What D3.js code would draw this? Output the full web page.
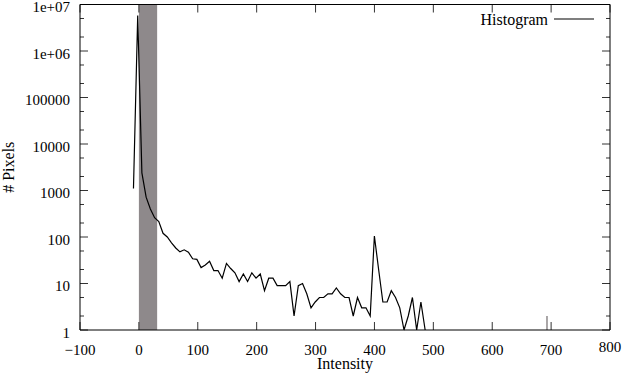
<!DOCTYPE html>
<html>
<head>
<meta charset="utf-8">
<script src="https://cdnjs.cloudflare.com/ajax/libs/d3/7.8.5/d3.min.js"></script>
<style>
    body { margin: 0; background: #fff; }
    svg { display: block; font-family: "Liberation Serif", "DejaVu Serif", serif; }
</style>
</head>
<body>
<svg id="chart" width="623" height="373"></svg>
<script>
// histogram bins (intensity) and pixel counts
const intensity = [-9.2, -2.0, 5.1, 12.3, 19.5, 26.7, 33.8, 41.0, 48.2, 55.4,
    62.6, 69.7, 76.9, 84.1, 91.3, 98.5, 105.6, 112.8, 120.0, 127.2,
    134.3, 141.5, 148.7, 155.9, 163.1, 170.2, 177.4, 184.6, 191.8, 198.9,
    206.1, 213.3, 220.5, 227.7, 234.8, 242.0, 249.2, 256.4, 263.5, 270.7,
    277.9, 285.1, 292.3, 299.4, 306.6, 313.8, 321.0, 328.1, 335.3, 342.5,
    349.7, 356.9, 364.0, 371.2, 378.4, 385.6, 392.8, 399.9, 407.1, 414.3,
    421.5, 428.6, 435.8, 443.0, 450.2, 457.4, 464.5, 471.7, 478.9, 486.1];
const pixelCount = [1100, 5800000, 2400, 720, 400, 260, 215, 120, 100, 75,
    58, 48, 53, 47, 34, 33, 22, 25, 30, 19,
    19, 13, 27, 21, 17, 11, 16, 11, 17, 13,
    16, 7, 13, 13, 9, 9, 9, 11, 2, 9,
    10, 6, 3, 4, 5, 5, 6, 6, 8, 6,
    5, 5, 2, 5, 3, 3, 2, 105, 20, 4,
    4, 7, 5, 3, 1, 2, 5, 1, 4, 1];

// shaded intensity window and the lone marker near 700
const bandRange = [0, 31];
const markerX = [693];
const markerCount = [2];

const xTicks = [-100, 0, 100, 200, 300, 400, 500, 600, 700, 800];
const xTickLabels = ["\u2212100", "0", "100", "200", "300", "400", "500", "600", "700", "800"];
const yTicks = [1, 10, 100, 1000, 10000, 100000, 1e6, 1e7];
const yTickLabels = ["1", "10", "100", "1000", "10000", "100000", "1e+06", "1e+07"];
const yMinor = [2, 5];

const svg = d3.select("#chart");
const plotLeft = 80, plotRight = 610, plotTop = 4.5, plotBottom = 330;

const x = d3.scaleLinear().domain([-100, 800]).range([plotLeft, plotRight]);
const y = d3.scaleLog().domain([1, 1e7]).range([plotBottom, plotTop]);

// band
svg.append("rect")
    .attr("x", x(bandRange[0]))
    .attr("y", plotTop)
    .attr("width", x(bandRange[1]) - x(bandRange[0]))
    .attr("height", plotBottom - plotTop)
    .attr("fill", "#8e898b");

svg.selectAll(".marker")
    .data(markerX)
    .enter()
    .append("line")
    .attr("x1", d => x(d)).attr("x2", d => x(d))
    .attr("y1", y(1)).attr("y2", (d, i) => y(markerCount[i]))
    .attr("stroke", "#8e898b")
    .attr("stroke-width", 1.5);

// ticks (mirrored)
const tickColor = "#333";
xTicks.forEach(function (t) {
    svg.append("line").attr("x1", x(t)).attr("x2", x(t))
        .attr("y1", plotBottom).attr("y2", plotBottom - 8)
        .attr("stroke", tickColor).attr("stroke-width", 1);
    svg.append("line").attr("x1", x(t)).attr("x2", x(t))
        .attr("y1", plotTop).attr("y2", plotTop + 8)
        .attr("stroke", tickColor).attr("stroke-width", 1);
});

yTicks.forEach(function (t) {
    svg.append("line").attr("x1", plotLeft).attr("x2", plotLeft + 8)
        .attr("y1", y(t)).attr("y2", y(t))
        .attr("stroke", tickColor).attr("stroke-width", 1);
    svg.append("line").attr("x1", plotRight).attr("x2", plotRight - 8)
        .attr("y1", y(t)).attr("y2", y(t))
        .attr("stroke", tickColor).attr("stroke-width", 1);
    if (t < 1e7) {
        yMinor.forEach(function (m) {
            svg.append("line").attr("x1", plotLeft).attr("x2", plotLeft + 4)
                .attr("y1", y(t * m)).attr("y2", y(t * m))
                .attr("stroke", tickColor).attr("stroke-width", 1);
            svg.append("line").attr("x1", plotRight).attr("x2", plotRight - 4)
                .attr("y1", y(t * m)).attr("y2", y(t * m))
                .attr("stroke", tickColor).attr("stroke-width", 1);
        });
    }
});

// histogram line
const line = d3.line()
    .x(d => x(d[0]))
    .y(d => y(d[1]));

svg.append("path")
    .datum(d3.zip(intensity, pixelCount))
    .attr("fill", "none")
    .attr("stroke", "#000")
    .attr("stroke-width", 1.2)
    .attr("stroke-linejoin", "miter")
    .attr("d", line);

// border
svg.append("line").attr("x1", plotLeft).attr("x2", plotRight).attr("y1", plotTop).attr("y2", plotTop)
    .attr("stroke", "#000");
svg.append("line").attr("x1", plotLeft).attr("x2", plotRight).attr("y1", plotBottom).attr("y2", plotBottom)
    .attr("stroke", "#000");
svg.append("line").attr("x1", plotLeft).attr("x2", plotLeft).attr("y1", plotTop).attr("y2", plotBottom)
    .attr("stroke", "#000");
svg.append("line").attr("x1", plotRight).attr("x2", plotRight).attr("y1", plotTop).attr("y2", plotBottom)
    .attr("stroke", "#000");

// tick labels
svg.selectAll(".xl")
    .data(xTicks)
    .enter()
    .append("text")
    .attr("x", d => x(d))
    .attr("y", (d, i) => i == xTicks.length - 1 ? 352 : 355)
    .attr("text-anchor", "middle")
    .attr("font-size", 15)
    .attr("fill", "#000")
    .text((d, i) => xTickLabels[i]);

svg.selectAll(".yl")
    .data(yTicks)
    .enter()
    .append("text")
    .attr("x", 70)
    .attr("y", d => y(d) + 7.5)
    .attr("text-anchor", "end")
    .attr("font-size", 15)
    .attr("fill", "#000")
    .text((d, i) => yTickLabels[i]);

// axis titles
svg.append("text")
    .attr("x", (plotLeft + plotRight) / 2)
    .attr("y", 369)
    .attr("text-anchor", "middle")
    .attr("font-size", 16)
    .text("Intensity");

svg.append("text")
    .attr("transform", "translate(14," + ((plotTop + plotBottom) / 2) + ") rotate(-90)")
    .attr("text-anchor", "middle")
    .attr("font-size", 16)
    .text("# Pixels");

// legend
svg.append("text")
    .attr("x", 548)
    .attr("y", 25)
    .attr("text-anchor", "end")
    .attr("font-size", 16)
    .text("Histogram");

svg.append("line")
    .attr("x1", 554).attr("x2", 594)
    .attr("y1", 19).attr("y2", 19)
    .attr("stroke", "#000")
    .attr("stroke-width", 1.2);
</script>
</body>
</html>
